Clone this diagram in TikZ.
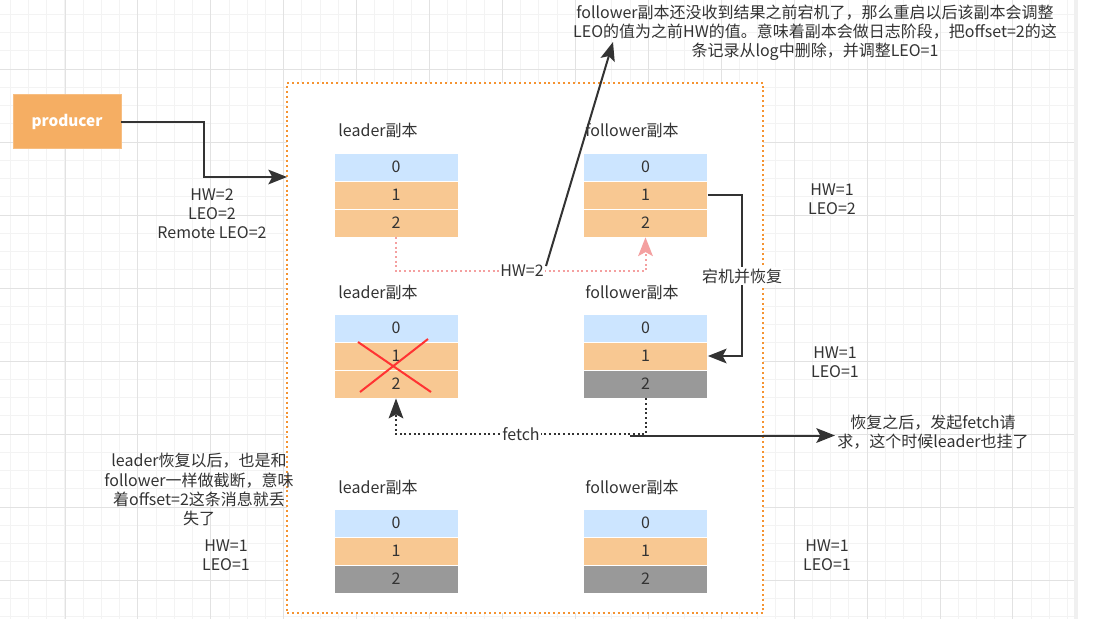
\documentclass[tikz,border=0pt]{standalone}
\usepackage{fontspec}
\setmainfont{Noto Sans CJK SC}
\usetikzlibrary{arrows.meta}
\definecolor{txt}{HTML}{333333}
\definecolor{cblue}{HTML}{CCE5FF}
\definecolor{corange}{HTML}{F8C892}
\definecolor{cgray}{HTML}{999999}
\definecolor{prodfill}{HTML}{F5AE63}
\definecolor{boxorange}{HTML}{F59331}
\definecolor{pinkc}{HTML}{F4A0A0}
\definecolor{gminor}{HTML}{F3F3F3}
\definecolor{gmajor}{HTML}{E2E2E2}
\definecolor{redx}{HTML}{FF3333}
\definecolor{conn}{HTML}{333333}
\tikzset{
  rowbox/.style={draw=white, line width=0.6pt, minimum width=93pt, minimum height=21pt, inner sep=0pt, text=txt},
  rblue/.style={rowbox, fill=cblue},
  rorange/.style={rowbox, fill=corange},
  rgray/.style={rowbox, fill=cgray},
  lbl/.style={text=txt, inner sep=1pt, align=center},
  wlbl/.style={lbl, fill=white},
  gridminor/.style={draw=gminor, line width=0.75pt},
  gridmajor/.style={draw=gmajor, line width=0.75pt},
  conn/.style={draw=conn, line width=1.5pt, -{Stealth[length=14pt,width=11pt,inset=3pt]}},
  pinkconn/.style={draw=pinkc, line width=1.5pt, dash pattern=on 1.5pt off 2pt, -{Stealth[length=14pt,width=11pt,inset=3pt,fill=pinkc]}},
  fetchconn/.style={draw=conn, line width=1.5pt, dash pattern=on 1.5pt off 2pt, -{Stealth[length=15pt,width=11pt,inset=3pt]}},
  obox/.style={draw=boxorange, fill=white, line width=1.5pt, dash pattern=on 1.5pt off 2.2pt, minimum width=357pt, minimum height=397.5pt, inner sep=0pt},
  prodbox/.style={fill=prodfill, draw=prodfill!80!white, line width=0.5pt, minimum width=81pt, minimum height=40.5pt, text=white, font=\fontsize{11.5}{13}\selectfont\bfseries},
  xline/.style={draw=redx, line width=1.5pt},
}
\begin{document}
\begin{tikzpicture}[x=0.75pt,y=-0.75pt, font=\fontsize{12}{14.3}\selectfont]
\useasboundingbox (0,0) rectangle (1093,619);
\fill[white] (0,0) rectangle (1093,619);
% grid
\foreach \i in {0,...,58} {\draw[gridminor] ({10.3+18.23*\i},0) -- ({10.3+18.23*\i},619);}
\foreach \i in {0,...,33} {\draw[gridminor] (0,{14.3+18.25*\i}) -- (1075,{14.3+18.25*\i});}
\foreach \i in {0,...,13} {\draw[gridmajor] ({65+72.92*\i},0) -- ({65+72.92*\i},619);}
\foreach \i in {0,...,7} {\draw[gridmajor] (0,{69+73*\i}) -- (1075,{69+73*\i});}
\fill[gminor!80!gmajor] (1074,0) rectangle (1078,619);

% orange container
\node[obox] (box) at (525,348) {};

% producer
\node[prodbox] (prod) at (67,121.5) {producer};
\coordinate (boxin) at (287,177);
\draw[conn] (prod.east) -- (204,121.5) |- (boxin);
\node[lbl] (hwleft) at (212,214) {HW=2\\LEO=2\\Remote LEO=2};

% block 1
\node[lbl] (lab1l) at (378,130) {leader副本};
\node[lbl] (lab1f) at (632,130) {follower副本};
\node[rblue]   (l1a) at (396,167) {0};
\node[rorange] (l1b) at (396,195) {1};
\node[rorange] (l1c) at (396,223) {2};
\node[rblue]   (f1a) at (645.5,167) {0};
\node[rorange] (f1b) at (645.5,195) {1};
\node[rorange] (f1c) at (645.5,223) {2};

% block 2
\node[lbl] (lab2l) at (378,292) {leader副本};
\node[lbl] (lab2f) at (632,292) {follower副本};
\node[rblue]   (l2a) at (396,328) {0};
\node[rorange] (l2b) at (396,356) {1};
\node[rorange] (l2c) at (396,384) {2};
\node[rblue]   (f2a) at (645.5,328) {0};
\node[rorange] (f2b) at (645.5,356) {1};
\node[rgray]   (f2c) at (645.5,384) {2};

% block 3
\node[lbl] (lab3l) at (378,487) {leader副本};
\node[lbl] (lab3f) at (632,487) {follower副本};
\node[rblue]   (l3a) at (396,523) {0};
\node[rorange] (l3b) at (396,551) {1};
\node[rgray]   (l3c) at (396,579) {2};
\node[rblue]   (f3a) at (645.5,523) {0};
\node[rorange] (f3b) at (645.5,551) {1};
\node[rgray]   (f3c) at (645.5,579) {2};

% red cross
\draw[xline] (358,342) -- (431,392);
\draw[xline] (428,339) -- (360,392);

% HW=2 pink connector
\draw[pinkconn] (l1c.south) -- ++(0,34) -| (f1c.south);
\node[wlbl] (hw2) at (522,271) {HW=2};

% arrow to top note
\node[lbl] (topnote) at (815,33) {follower副本还没收到结果之前宕机了，那么重启以后该副本会调整\\LEO的值为之前HW的值。意味着副本会做日志阶段，把offset=2的这\\条记录从log中删除，并调整LEO=1};
\coordinate (topin) at (613,42);
\draw[conn] (546,266) -- (topin);

% crash and recover
\draw[conn] (f1b.east) -- ++(34,0) |- (f2b.east);
\node[wlbl] (crash) at (742,276) {宕机并恢复};

% fetch
\draw[fetchconn] (f2c.south) -- ++(0,36) -| (l2c.south);
\node[wlbl] (fetch) at (521,434) {fetch};
\coordinate (fs) at (630,435.5);
\coordinate (fe) at (835,435.5);
\draw[conn] (fs) -- (fe);
\node[lbl] (rnote) at (933,432) {恢复之后，发起fetch请\\求，这个时候leader也挂了};

% HW/LEO labels
\node[lbl] (hw1) at (832,199) {HW=1\\LEO=2};
\node[lbl] (hw2r) at (835,362) {HW=1\\LEO=1};
\node[lbl] (hw3r) at (827,555) {HW=1\\LEO=1};
\node[lbl] (hw3l) at (226,555) {HW=1\\LEO=1};

% left note
\node[lbl] (lnote) at (199,489.5) {leader恢复以后，也是和\\follower一样做截断，意味\\着offset=2这条消息就丢\\失了};
\end{tikzpicture}
\end{document}
